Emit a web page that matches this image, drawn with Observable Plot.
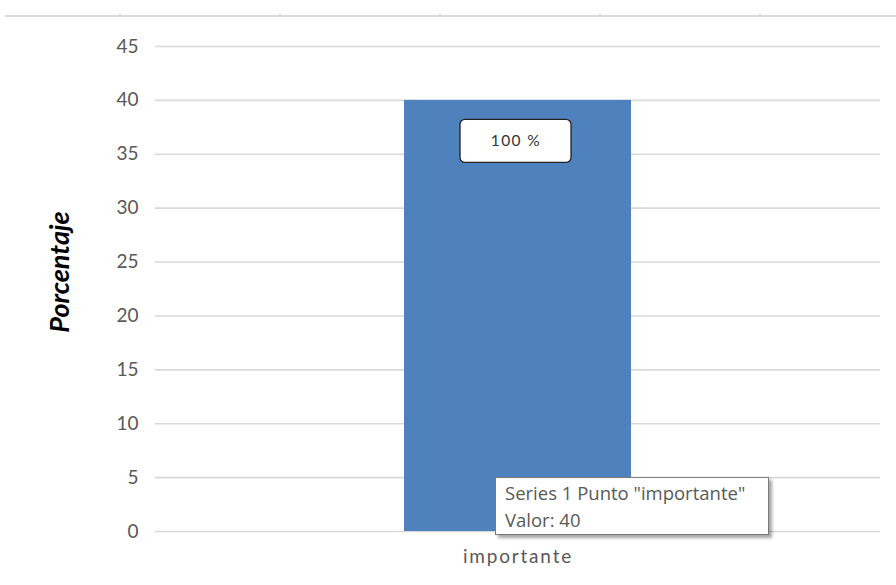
<!DOCTYPE html>
<html>
<head>
<meta charset="utf-8">
<script src="https://cdn.jsdelivr.net/npm/d3@7"></script>
<script src="https://cdn.jsdelivr.net/npm/@observablehq/plot@0.6"></script>
<style>
  html, body { margin: 0; padding: 0; background: #fff; }
  #wrap { position: relative; width: 896px; height: 585px; overflow: hidden; }
  #wrap svg { display: block; }
  #deco { position: absolute; left: 0; top: 0; }
  #tip {
    position: absolute; left: 495px; top: 477px; width: 274px; height: 58px;
    box-sizing: border-box; background: #fff; border: 1px solid #7a7a7a;
    box-shadow: 3px 3px 3px rgba(0,0,0,0.35);
    font-family: "Open Sans", sans-serif; font-size: 18.5px; color: #595959;
    padding: 1px 0 0 9px; line-height: 27px; white-space: nowrap;
  }
</style>
</head>
<body>
<div id="wrap"></div>
<script>
// Data
const categories = ["importante"];
const values = [40];
const labels = ["100 %"];
const yTicks = [0, 5, 10, 15, 20, 25, 30, 35, 40, 45];
const yTitle = "Porcentaje";
const seriesName = "Series 1";

const table = categories.map((c, i) => ({category: c, value: values[i], label: labels[i]}));

const chart = Plot.plot({
  width: 896,
  height: 585,
  marginTop: 46,
  marginBottom: 54,
  marginLeft: 155,
  marginRight: 16,
  style: {fontFamily: "Lato, sans-serif", fontSize: "19px", color: "#595959", background: "#fff"},
  x: {domain: categories, padding: 0.523, label: null, tickSize: 0, tickPadding: 18},
  y: {domain: [0, 45], ticks: yTicks, label: null, tickSize: 0, tickPadding: 17},
  marks: [
    Plot.ruleY(yTicks, {stroke: "#d9d9d9", strokeWidth: 1.6}),
    Plot.barY(table, {x: "category", y: "value", fill: "#4f81bd"}),
    Plot.barY(table, {x: "category", y1: d => d.value - 5.8, y2: d => d.value - 1.8,
      fill: "#fff", stroke: "#222", strokeWidth: 1.3, rx: 5, insetLeft: 56, insetRight: 60}),
    Plot.text(table, {x: "category", y: d => d.value - 3.8, text: "label", dx: -2,
      fill: "#333", fontSize: 15.5, fontFamily: "Lato, sans-serif"}),
    Plot.text([yTitle], {frameAnchor: "left", textAnchor: "middle", dx: -95, dy: -17, rotate: -90,
      fill: "#000", fontWeight: "bold", fontStyle: "italic", fontSize: 27})
  ]
});
document.getElementById("wrap").appendChild(chart);

// letter spacing to mimic the original's wider rendering
d3.select(chart).selectAll("g[aria-label='x-axis'] text, g[aria-label='x-axis tick label'] text")
  .style("letter-spacing", "1.8px");
d3.select(chart).selectAll("g[aria-label='text'] text").filter(function() { return this.textContent === labels[0]; })
  .style("letter-spacing", "1.4px");

// Decorative top border (remnant of the frame above)
const deco = d3.select("#wrap").append("svg").attr("id", "deco")
  .attr("width", 896).attr("height", 30);
deco.append("line").attr("x1", 5).attr("x2", 896).attr("y1", 16).attr("y2", 16)
  .attr("stroke", "#d9d9d9").attr("stroke-width", 2);
[120, 280, 440, 600, 760].forEach(x => deco.append("line")
  .attr("x1", x).attr("x2", x).attr("y1", 13).attr("y2", 16)
  .attr("stroke", "#d9d9d9").attr("stroke-width", 1));

// Tooltip
const tip = document.createElement("div");
tip.id = "tip";
tip.innerHTML = `${seriesName} Punto "${categories[0]}"<br>Valor: ${values[0]}`;
document.getElementById("wrap").appendChild(tip);
</script>
</body>
</html>
